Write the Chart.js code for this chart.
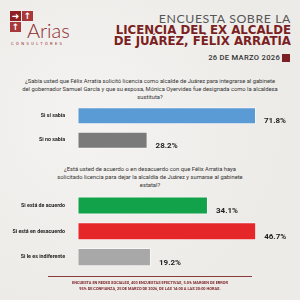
<!DOCTYPE html>
<html>
<head>
<meta charset="utf-8">
<script src="https://cdn.jsdelivr.net/npm/chart.js@4"></script>
<style>
  html, body { margin: 0; padding: 0; }
  body {
    width: 300px; height: 300px; position: relative; overflow: hidden;
    background: #efeeec;
    background-image: radial-gradient(circle at 30% 40%, #f4f3f1 0%, #ecebe8 70%);
    font-family: Roboto, sans-serif;
  }
  .abs { position: absolute; white-space: nowrap; }
  .box { position: absolute; width: 11px; height: 10px; color: #fff; font: bold 9px/10px "DejaVu Sans"; text-align: center; }
  .q { position: absolute; left: 0; width: 300px; text-align: center; font-size: 5.8px; line-height: 8px; color: #333; }
  canvas { position: absolute; left: 0; }
</style>
</head>
<body>
<!-- logo -->
<div class="box" style="left:10px;top:11px;background:#8e1f22;">&#10140;</div>
<div class="box" style="left:22px;top:11px;background:#a8393b;">&#8593;</div>
<div class="box" style="left:10px;top:22px;background:#a8393b;">&#8593;</div>
<div class="abs" style="left:27px;top:20px;font:300 20px/20px Lato, sans-serif;color:#8e2a2c;">Arias</div>
<div class="abs" style="left:11px;top:42px;font:4px/4px Roboto;letter-spacing:2.4px;color:#8e2a2c;">CONSULTORES</div>

<!-- title -->
<div class="abs" style="right:9px;top:13px;font:400 12.3px/12px Lato, sans-serif;letter-spacing:0.6px;color:#555;">ENCUESTA SOBRE LA</div>
<div class="abs" style="right:9px;top:24px;font:bold 11.8px/12px 'DejaVu Sans';color:#7b1f22;">LICENCIA DEL EX ALCALDE</div>
<div class="abs" style="right:9px;top:35px;font:bold 11.8px/12px 'DejaVu Sans';color:#7b1f22;">DE JUÁREZ, FÉLIX ARRATIA</div>
<div class="abs" style="right:20px;top:54px;font:500 7.6px/8px Roboto;letter-spacing:0.3px;color:#333;">26 DE MARZO 2026</div>
<div class="abs" style="left:282px;top:54px;width:8px;height:8px;background:#7b1f22;"></div>

<!-- questions -->
<div class="q" style="top:77px;">¿Sabía usted que Félix Arratia solicitó licencia como alcalde de Juárez para integrarse al gabinete<br>del gobernador Samuel García y que su esposa, Mónica Oyervides fue designada como la alcaldesa<br>sustituta?</div>
<div class="q" style="top:165px;">¿Está usted de acuerdo o en desacuerdo con que Félix Arratia haya<br>solicitado licencia para dejar la alcaldía de Juárez y sumarse al gabinete<br>estatal?</div>

<canvas id="c1" width="300" height="64" style="top:96px;"></canvas>
<canvas id="c2" width="300" height="93" style="top:185px;"></canvas>

<!-- footer -->
<div class="abs" style="left:48px;top:276px;width:204px;height:1.3px;background:#8b3a3a;"></div>
<div class="q" style="top:280px;font:bold 3.9px/5.8px Roboto;color:#7b1f22;">ENCUESTA EN REDES SOCIALES, 400 ENCUESTAS EFECTIVAS, 5.0% MARGEN DE ERROR<br>95% DE CONFIANZA, 25 DE MARZO DE 2026, DE LAS 14:00 A LAS 20:00 HORAS.</div>

<script>
const q1Labels = ['Si sí sabía', 'Si no sabía'];
const q1Values = [71.8, 28.2];
const q1Colors = ['#5b9bd5', '#7a7a7a'];

const q2Labels = ['Si está de acuerdo', 'Si está en desacuerdo', 'Si le es indiferente'];
const q2Values = [34.1, 46.7, 19.2];
const q2Colors = ['#12a34a', '#e5272a', '#a8a8a8'];

// percentage printed to the right of each bar, a bit below its middle
const valueLabels = {
  id: 'valueLabels',
  afterDatasetsDraw(chart) {
    const ctx = chart.ctx;
    ctx.save();
    ctx.font = 'bold 8px Roboto';
    ctx.fillStyle = '#1e1e1e';
    ctx.textAlign = 'left';
    ctx.textBaseline = 'middle';
    chart.getDatasetMeta(0).data.forEach((bar, i) => {
      const v = chart.data.datasets[0].data[i];
      ctx.fillText(v.toFixed(1) + '%', bar.x + 8, bar.y + 5.5);
    });
    ctx.restore();
  }
};

function makeChart(id, labels, values, colors, max, padRight, padBottom) {
  return new Chart(document.getElementById(id), {
    type: 'bar',
    data: {
      labels: labels,
      datasets: [{
        data: values,
        backgroundColor: colors,
        borderColor: 'rgba(255,255,255,0.5)',
        borderWidth: 1,
        borderSkipped: false,
        barPercentage: 0.7,
        categoryPercentage: 1
      }]
    },
    options: {
      indexAxis: 'y',
      responsive: false,
      animation: false,
      layout: { padding: { top: 4, bottom: padBottom, right: padRight, left: 0 } },
      plugins: { legend: { display: false }, tooltip: { enabled: false } },
      scales: {
        x: { display: false, min: 0, max: max },
        y: {
          grid: { display: false },
          border: { display: false },
          ticks: { font: { family: 'Roboto', weight: 'bold', size: 5.3 }, color: '#222', padding: 4.5 },
          afterFit: s => { s.width = 77.5; }
        }
      }
    },
    plugins: [valueLabels]
  });
}

makeChart('c1', q1Labels, q1Values, q1Colors, 80, 23.6, 6);
makeChart('c2', q2Labels, q2Values, q2Colors, 50, 31.2, 8);
</script>
</body>
</html>
